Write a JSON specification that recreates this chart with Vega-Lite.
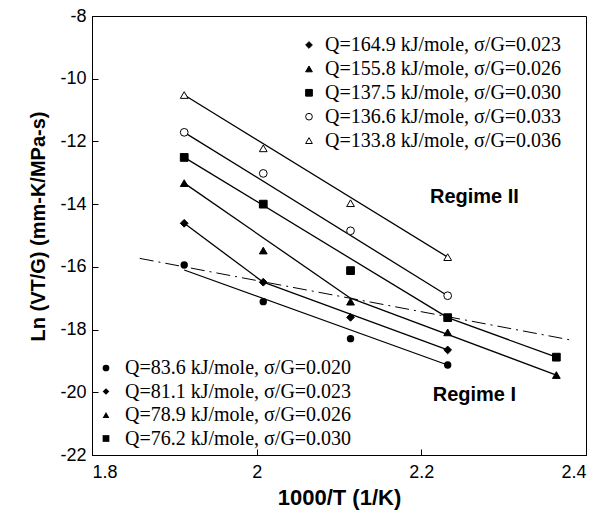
{
  "$schema": "https://vega.github.io/schema/vega-lite/v6.json",
  "width": 494,
  "height": 439,
  "autosize": {"type": "none"},
  "padding": {"left": 92, "top": 16, "right": 28, "bottom": 63},
  "config": {
    "view": {"stroke": "black", "strokeWidth": 1},
    "axis": {
      "domainColor": "black", "tickColor": "black", "grid": false,
      "labelFont": "Liberation Sans", "labelFontSize": 18, "labelColor": "black",
      "titleFont": "Liberation Sans", "titleFontSize": 22, "titleFontWeight": "bold", "titleColor": "black",
      "tickSize": -6
    },
    "legend": {
      "labelFont": "Liberation Serif", "labelFontSize": 20, "labelColor": "black",
      "labelLimit": 400, "padding": 0, "rowPadding": 3, "labelOffset": 7,
      "symbolStrokeColor": "black", "symbolStrokeWidth": 1, "symbolSize": 45
    }
  },
  "datasets": {
    "pts": [
      {"sg": "0.036", "top": "Q=133.8 kJ/mole, σ/G=0.036", "x": 1.912, "y": -10.52},
      {"sg": "0.036", "top": "Q=133.8 kJ/mole, σ/G=0.036", "x": 2.008, "y": -12.22},
      {"sg": "0.036", "top": "Q=133.8 kJ/mole, σ/G=0.036", "x": 2.114, "y": -13.97},
      {"sg": "0.036", "top": "Q=133.8 kJ/mole, σ/G=0.036", "x": 2.232, "y": -15.69},
      {"sg": "0.033", "top": "Q=136.6 kJ/mole, σ/G=0.033", "x": 1.912, "y": -11.71},
      {"sg": "0.033", "top": "Q=136.6 kJ/mole, σ/G=0.033", "x": 2.008, "y": -13.02},
      {"sg": "0.033", "top": "Q=136.6 kJ/mole, σ/G=0.033", "x": 2.114, "y": -14.85},
      {"sg": "0.033", "top": "Q=136.6 kJ/mole, σ/G=0.033", "x": 2.232, "y": -16.92},
      {"sg": "0.030", "top": "Q=137.5 kJ/mole, σ/G=0.030", "x": 1.912, "y": -12.51},
      {"sg": "0.030", "top": "Q=137.5 kJ/mole, σ/G=0.030", "x": 2.008, "y": -14.0},
      {"sg": "0.030", "top": "Q=137.5 kJ/mole, σ/G=0.030", "x": 2.114, "y": -16.12},
      {"sg": "0.030", "top": "Q=137.5 kJ/mole, σ/G=0.030", "x": 2.232, "y": -17.62},
      {"sg": "0.030", "top": "Q=137.5 kJ/mole, σ/G=0.030", "x": 2.364, "y": -18.88},
      {"sg": "0.026", "top": "Q=155.8 kJ/mole, σ/G=0.026", "x": 1.912, "y": -13.33},
      {"sg": "0.026", "top": "Q=155.8 kJ/mole, σ/G=0.026", "x": 2.008, "y": -15.48},
      {"sg": "0.026", "top": "Q=155.8 kJ/mole, σ/G=0.026", "x": 2.114, "y": -17.11},
      {"sg": "0.026", "top": "Q=155.8 kJ/mole, σ/G=0.026", "x": 2.232, "y": -18.09},
      {"sg": "0.026", "top": "Q=155.8 kJ/mole, σ/G=0.026", "x": 2.364, "y": -19.45},
      {"sg": "0.023", "top": "Q=164.9 kJ/mole, σ/G=0.023", "x": 1.912, "y": -14.61},
      {"sg": "0.023", "top": "Q=164.9 kJ/mole, σ/G=0.023", "x": 2.008, "y": -16.49},
      {"sg": "0.023", "top": "Q=164.9 kJ/mole, σ/G=0.023", "x": 2.114, "y": -17.61},
      {"sg": "0.023", "top": "Q=164.9 kJ/mole, σ/G=0.023", "x": 2.232, "y": -18.65}
    ],
    "circ": [
      {"sg": "0.020", "bottom": "Q=83.6 kJ/mole, σ/G=0.020", "x": 1.912, "y": -15.94},
      {"sg": "0.020", "bottom": "Q=83.6 kJ/mole, σ/G=0.020", "x": 2.008, "y": -17.11},
      {"sg": "0.020", "bottom": "Q=83.6 kJ/mole, σ/G=0.020", "x": 2.114, "y": -18.29},
      {"sg": "0.020", "bottom": "Q=83.6 kJ/mole, σ/G=0.020", "x": 2.232, "y": -19.13}
    ],
    "fits": [
      {"seg": "II-0.036", "x": 1.912, "y": -10.52}, {"seg": "II-0.036", "x": 2.232, "y": -15.69},
      {"seg": "II-0.033", "x": 1.912, "y": -11.71}, {"seg": "II-0.033", "x": 2.232, "y": -16.92},
      {"seg": "II-0.030", "x": 1.912, "y": -12.51}, {"seg": "II-0.030", "x": 2.232, "y": -17.62},
      {"seg": "I-0.030", "x": 2.232, "y": -17.62}, {"seg": "I-0.030", "x": 2.364, "y": -18.88},
      {"seg": "II-0.026", "x": 1.912, "y": -13.33}, {"seg": "II-0.026", "x": 2.114, "y": -17.0},
      {"seg": "I-0.026", "x": 2.114, "y": -17.0}, {"seg": "I-0.026", "x": 2.364, "y": -19.45},
      {"seg": "II-0.023", "x": 1.912, "y": -14.61}, {"seg": "II-0.023", "x": 2.008, "y": -16.49},
      {"seg": "I-0.023", "x": 2.008, "y": -16.49}, {"seg": "I-0.023", "x": 2.232, "y": -18.65},
      {"seg": "I-0.020", "x": 1.912, "y": -16.1}, {"seg": "I-0.020", "x": 2.232, "y": -19.13}
    ],
    "boundary": [
      {"x": 1.858, "y": -15.73}, {"x": 2.381, "y": -18.33}
    ],
    "labels": [
      {"t": "Regime II", "x": 2.2105, "y": -13.76},
      {"t": "Regime I", "x": 2.2138, "y": -20.09}
    ]
  },
  "layer": [
    {
      "data": {"name": "fits"},
      "mark": {"type": "line", "color": "black", "strokeWidth": 1.3},
      "encoding": {
        "x": {"field": "x", "type": "quantitative", "scale": {"domain": [1.8, 2.4], "nice": false},
              "axis": {"values": [1.8, 2, 2.2, 2.4], "title": "1000/T (1/K)", "labelExpr": "'' + datum.value", "labelPadding": 14, "titlePadding": 6}},
        "y": {"field": "y", "type": "quantitative", "scale": {"domain": [-22, -8], "nice": false},
              "axis": {"values": [-22, -20, -18, -16, -14, -12, -10, -8], "title": "Ln (VT/G) (mm-K/MPa-s)", "labelExpr": "'' + datum.value", "labelPadding": 12, "titlePadding": 11, "titleFontSize": 20, "titleY": 210}},
        "detail": {"field": "seg"}
      }
    },
    {
      "data": {"name": "boundary"},
      "mark": {"type": "line", "color": "black", "strokeWidth": 1, "strokeDash": [14, 5, 2, 5]},
      "encoding": {
        "x": {"field": "x", "type": "quantitative"},
        "y": {"field": "y", "type": "quantitative"}
      }
    },
    {
      "data": {"name": "pts"},
      "mark": {"type": "point", "filled": true, "strokeWidth": 1, "size": 60, "opacity": 1},
      "encoding": {
        "x": {"field": "x", "type": "quantitative"},
        "y": {"field": "y", "type": "quantitative"},
        "shape": {"field": "top", "type": "nominal",
          "scale": {"domain": ["Q=164.9 kJ/mole, σ/G=0.023", "Q=155.8 kJ/mole, σ/G=0.026", "Q=137.5 kJ/mole, σ/G=0.030", "Q=136.6 kJ/mole, σ/G=0.033", "Q=133.8 kJ/mole, σ/G=0.036"],
                    "range": ["diamond", "triangle-up", "square", "circle", "triangle-up"]},
          "legend": {"title": null, "orient": "none", "legendX": 207, "legendY": 19, "rowPadding": 3.9, "labelOffset": 6}},
        "fill": {"field": "top", "type": "nominal",
          "scale": {"domain": ["Q=164.9 kJ/mole, σ/G=0.023", "Q=155.8 kJ/mole, σ/G=0.026", "Q=137.5 kJ/mole, σ/G=0.030", "Q=136.6 kJ/mole, σ/G=0.033", "Q=133.8 kJ/mole, σ/G=0.036"],
                    "range": ["black", "black", "black", "white", "white"]},
          "legend": {"title": null, "orient": "none", "legendX": 207, "legendY": 19, "rowPadding": 3.9, "labelOffset": 6}},
        "stroke": {"field": "top", "type": "nominal",
          "scale": {"domain": ["Q=164.9 kJ/mole, σ/G=0.023", "Q=155.8 kJ/mole, σ/G=0.026", "Q=137.5 kJ/mole, σ/G=0.030", "Q=136.6 kJ/mole, σ/G=0.033", "Q=133.8 kJ/mole, σ/G=0.036"],
                    "range": ["black", "black", "black", "black", "black"]},
          "legend": {"title": null, "orient": "none", "legendX": 207, "legendY": 19, "rowPadding": 3.9, "labelOffset": 6}}
      }
    },
    {
      "data": {"name": "circ"},
      "mark": {"type": "point", "filled": true, "color": "black", "size": 55, "opacity": 1},
      "encoding": {
        "x": {"field": "x", "type": "quantitative"},
        "y": {"field": "y", "type": "quantitative"},
        "shape": {"field": "bottom", "type": "nominal",
          "scale": {"domain": ["Q=83.6 kJ/mole, σ/G=0.020", "Q=81.1 kJ/mole, σ/G=0.023", "Q=78.9 kJ/mole, σ/G=0.026", "Q=76.2 kJ/mole, σ/G=0.030"],
                    "range": ["circle", "diamond", "triangle-up", "square"]},
          "legend": {"title": null, "orient": "none", "legendX": 4, "legendY": 342, "rowPadding": 3.5, "labelOffset": 9, "symbolFillColor": "black"}}
      }
    },
    {
      "data": {"name": "labels"},
      "mark": {"type": "text", "font": "Liberation Sans", "fontWeight": "bold", "fontSize": 20, "align": "left", "baseline": "middle", "color": "black"},
      "encoding": {
        "x": {"field": "x", "type": "quantitative"},
        "y": {"field": "y", "type": "quantitative"},
        "text": {"field": "t"}
      }
    }
  ],
  "resolve": {"scale": {"shape": "independent", "fill": "independent", "stroke": "independent"}, "legend": {"shape": "independent", "fill": "independent", "stroke": "independent"}}
}
